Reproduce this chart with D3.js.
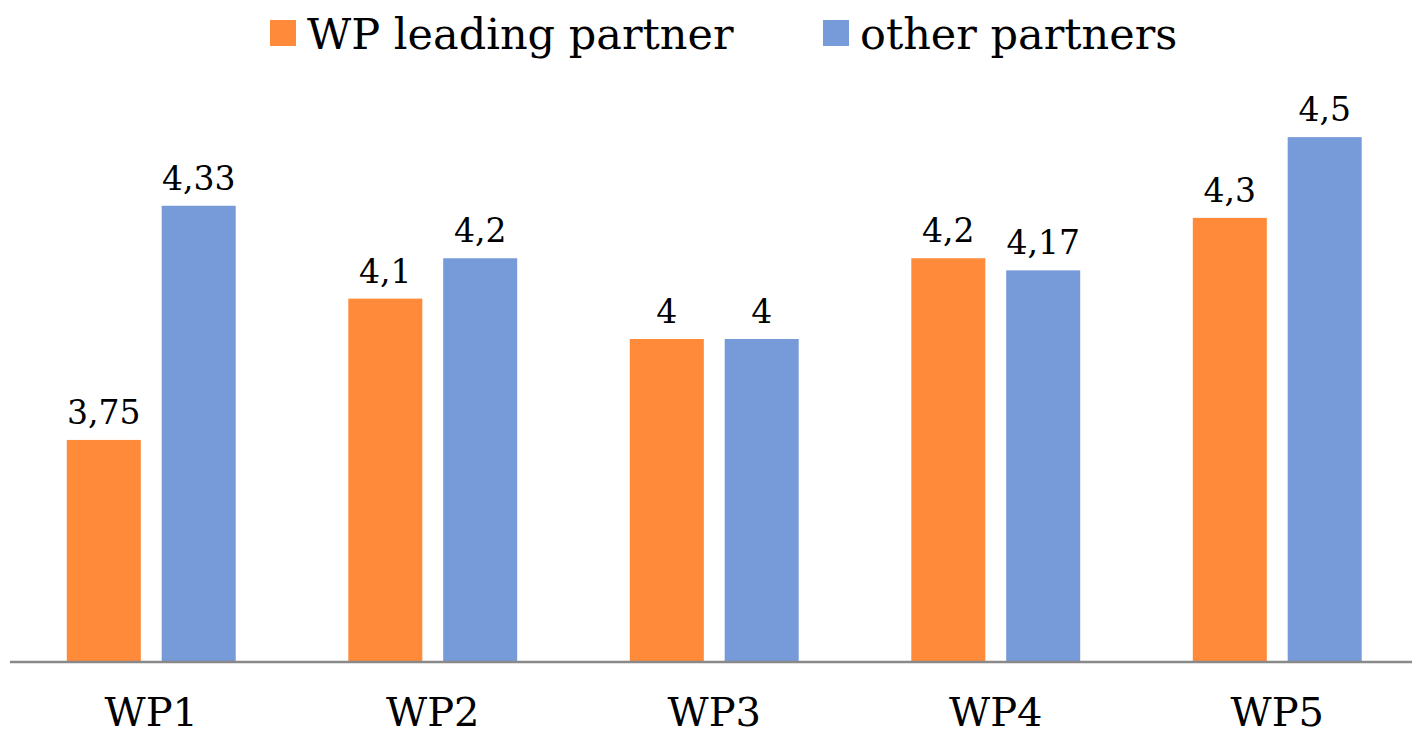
<!DOCTYPE html>
<html>
<head>
<meta charset="utf-8">
<script src="https://cdn.jsdelivr.net/npm/d3@7"></script>
<style>
  body { margin: 0; background: #fff; }
  svg text { font-family: "DejaVu Serif", serif; fill: #000; }
</style>
</head>
<body>
<div class="chart"></div>
<script>
var categories = ["WP1", "WP2", "WP3", "WP4", "WP5"];
var seriesNames = ["WP leading partner", "other partners"];
var leading = [3.75, 4.1, 4, 4.2, 4.3];
var others = [4.33, 4.2, 4, 4.17, 4.5];
var colors = ["#FF8A3A", "#779AD8"];

var width = 1412, height = 735;

var svg = d3.select(".chart").append("svg")
    .attr("width", width)
    .attr("height", height);

var data = categories.map(function(c, i) {
  return { cat: c, values: [leading[i], others[i]] };
});

// set the ranges
var x0 = d3.scaleBand().domain(categories).range([10.5, 1418])
    .paddingInner(0.4).paddingOuter(0.2);
var x1 = d3.scaleBand().domain(seriesNames).range([0, x0.bandwidth()]).paddingInner(0.22);
var y = d3.scaleLinear().domain([3.2, 4.8]).range([662, 16]);

var groups = svg.selectAll("g.grp")
    .data(data)
    .enter().append("g")
    .attr("class", "grp")
    .attr("transform", function(d) { return "translate(" + x0(d.cat) + ",0)"; });

groups.selectAll("rect")
    .data(function(d) { return d.values; })
    .enter().append("rect")
    .attr("x", function(d, i) { return x1(seriesNames[i]); })
    .attr("y", function(d) { return y(d); })
    .attr("width", x1.bandwidth())
    .attr("height", function(d) { return y(3.2) - y(d); })
    .style("fill", function(d, i) { return colors[i]; });

groups.selectAll("text.val")
    .data(function(d) { return d.values; })
    .enter().append("text")
    .attr("class", "val")
    .attr("x", function(d, i) { return x1(seriesNames[i]) + x1.bandwidth() / 2; })
    .attr("y", function(d) { return y(d) - 16; })
    .attr("text-anchor", "middle")
    .style("font-size", "33px")
    .text(function(d) { return String(d).replace(".", ","); });

// baseline axis
var xAxis = svg.append("g")
    .attr("transform", "translate(0," + y(3.2) + ")")
    .call(d3.axisBottom(x0).tickSize(0).tickPadding(36));
xAxis.select(".domain").attr("d", "M10,0H1412").attr("stroke", "#898989").attr("stroke-width", 2.5);
xAxis.selectAll(".tick text")
    .style("font-family", "DejaVu Serif, serif")
    .style("font-size", "40px")
    .attr("fill", "#000");

// legend
var legendX = [270, 823];
var legend = svg.selectAll("g.leg")
    .data(seriesNames)
    .enter().append("g")
    .attr("class", "leg")
    .attr("transform", function(d, i) { return "translate(" + legendX[i] + ",20)"; });
legend.append("rect")
    .attr("width", 26).attr("height", 26)
    .style("fill", function(d, i) { return colors[i]; });
legend.append("text")
    .attr("x", 37).attr("y", 29)
    .style("font-size", "43px")
    .text(function(d) { return d; });
</script>
</body>
</html>
